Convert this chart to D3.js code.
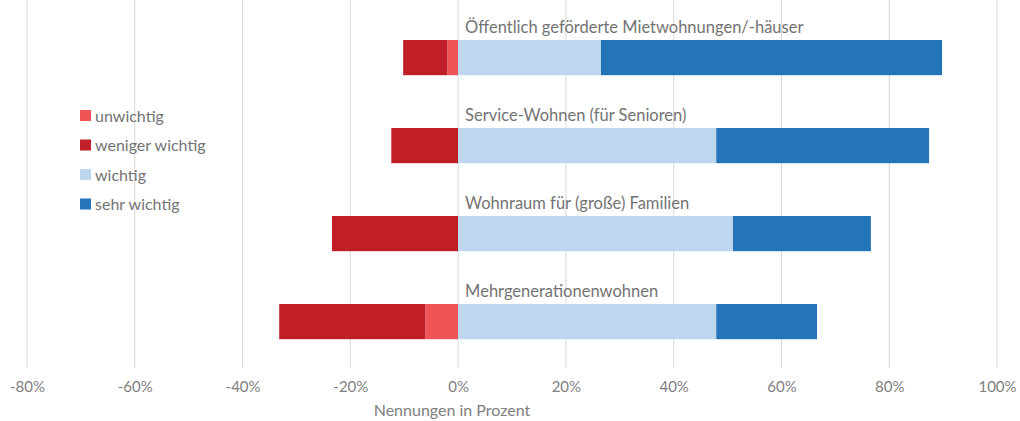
<!DOCTYPE html>
<html><head><meta charset="utf-8">
<script src="https://cdn.jsdelivr.net/npm/d3@7"></script>
<style>body{margin:0;background:#fff}svg{display:block}</style>
</head><body>
<svg id="chart" width="1020" height="421"></svg>
<script>
const categories = ["Öffentlich geförderte Mietwohnungen/-häuser","Service-Wohnen (für Senioren)","Wohnraum für (große) Familien","Mehrgenerationenwohnen"];
const seriesNames = ["unwichtig","weniger wichtig","wichtig","sehr wichtig"];
const unwichtig = [2.0, 0, 0, 6.1];
const wenigerWichtig = [8.2, 12.4, 23.4, 27.1];
const wichtig = [26.5, 47.9, 51.0, 47.9];
const sehrWichtig = [63.3, 39.5, 25.6, 18.7];
const colors = ["#F05457","#C01F27","#BDD8EE","#2475B8"];
const ticks = [-80,-60,-40,-20,0,20,40,60,80,100];
const axisTitle = "Nennungen in Prozent";

const svg = d3.select("#chart");
const font = "Lato, 'Open Sans', sans-serif";
const x = d3.scaleLinear().domain([-80,100]).range([27,997]);
const y = d3.scaleBand().domain(categories).range([13.6,365.6]).paddingInner(0.6).paddingOuter(0.3);
const gridTop = 0, gridBottom = 362;

// grid
svg.append("g").selectAll("line").data(ticks).join("line")
  .attr("x1",d=>x(d)).attr("x2",d=>x(d)).attr("y1",gridTop).attr("y2",gridBottom+6)
  .attr("stroke","#d9d9d9").attr("stroke-width",1);

// axis labels
const axis = d3.axisBottom(x).tickValues(ticks).tickFormat(d=>d+"%").tickSize(0).tickPadding(0);
const ag = svg.append("g").attr("transform",`translate(0,${gridBottom+30})`).call(axis);
ag.select(".domain").remove();
ag.selectAll("text").attr("font-family",font).attr("font-size",15).attr("fill","#808080").attr("dy",0);

svg.append("text").attr("x",452).attr("y",416).attr("text-anchor","middle")
  .attr("font-family",font).attr("font-size",16).attr("fill","#808080").text(axisTitle);

// stacked segments
const segs = [];
categories.forEach((c,i)=>{
  const u=unwichtig[i], w=wenigerWichtig[i], wi=wichtig[i], s=sehrWichtig[i];
  segs.push({c, k:0, x0:-u, x1:0});
  segs.push({c, k:1, x0:-u-w, x1:-u});
  segs.push({c, k:2, x0:0, x1:wi});
  segs.push({c, k:3, x0:wi, x1:wi+s});
});
svg.append("g").selectAll("rect").data(segs.filter(d=>d.x1>d.x0)).join("rect")
  .attr("x",d=>x(d.x0)).attr("width",d=>x(d.x1)-x(d.x0))
  .attr("y",d=>y(d.c)).attr("height",y.bandwidth())
  .attr("fill",d=>colors[d.k]);

// category labels
svg.append("g").selectAll("text").data(categories).join("text")
  .attr("x",x(0)+7).attr("y",d=>y(d)-7)
  .attr("font-family",font).attr("font-size",16.5).attr("fill","#737373").text(d=>d);

// legend
const lg = svg.append("g");
seriesNames.forEach((n,i)=>{
  const yy = 116 + i*29.5;
  lg.append("rect").attr("x",80).attr("y",yy-6).attr("width",11).attr("height",11).attr("fill",colors[i]);
  lg.append("text").attr("x",95).attr("y",yy+5.5).attr("font-family",font).attr("font-size",16)
    .attr("fill","#737373").text(n);
});
</script>
</body></html>
